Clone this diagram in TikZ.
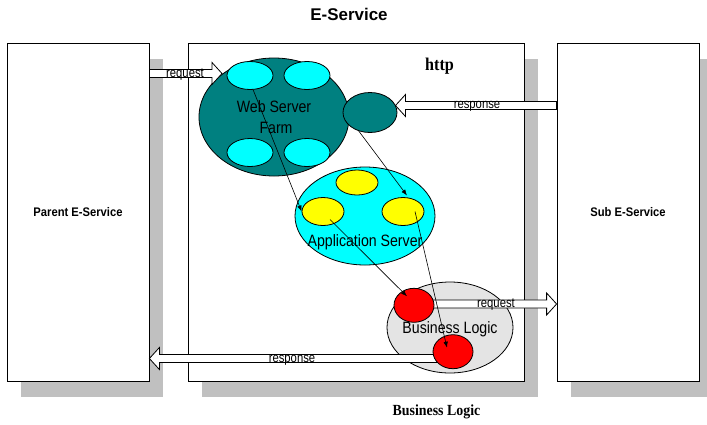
\documentclass[tikz,border=0pt]{standalone}
\usepackage{fontspec}
\usepackage{graphicx}
\setmainfont{Liberation Sans}
\newfontfamily\serifbold{Liberation Serif}
\usetikzlibrary{shapes.geometric,arrows.meta,calc,shadows}
\definecolor{teal0}{RGB}{0,128,128}
\definecolor{cyan0}{RGB}{0,255,255}
\definecolor{yellow0}{RGB}{255,255,0}
\definecolor{red0}{RGB}{255,0,0}
\definecolor{blgray}{RGB}{228,228,228}
\definecolor{shadowgray}{RGB}{192,192,192}
\newcommand\hsq[2]{\scalebox{#1}[1]{#2}}
\newcommand\barR[2]{\draw[barrow] ($(#1)+(0,-4)$) -- ($(#2)+(-10,-4)$) -- ($(#2)+(-10,-11)$) -- (#2) -- ($(#2)+(-10,11)$) -- ($(#2)+(-10,4)$) -- ($(#1)+(0,4)$) -- cycle;}
\newcommand\barL[2]{\draw[barrow] ($(#1)+(0,-4)$) -- ($(#2)+(10,-4)$) -- ($(#2)+(10,-11)$) -- (#2) -- ($(#2)+(10,11)$) -- ($(#2)+(10,4)$) -- ($(#1)+(0,4)$) -- cycle;}
\begin{document}
\begin{tikzpicture}[x=1bp,y=-1bp,
  box/.style={draw, line width=0.8bp, fill=white, inner sep=0,
    drop shadow={shadow xshift=14bp, shadow yshift=-16bp, fill=shadowgray, opacity=1}},
  oval/.style={ellipse, draw, line width=0.8bp, inner sep=0},
  barrow/.style={draw, fill=white, line width=0.8bp, line join=miter},
  flow/.style={-{Latex[length=6bp,width=4.5bp]}, line width=0.6bp},
  lbl/.style={inner sep=0, anchor=base, font=\fontsize{16.5}{20}\selectfont},
  albl/.style={inner sep=0, anchor=base, font=\fontsize{13.5}{16}\selectfont},
  boxlbl/.style={font=\bfseries\fontsize{12.5}{15}\selectfont}
]
\useasboundingbox (0,0) rectangle (707,424);

% boxes
\node[box, boxlbl, minimum width=142bp, minimum height=338bp] (parent) at (78,212) {\hsq{0.9}{Parent E-Service}};
\node[box, minimum width=336bp, minimum height=338bp] (mid) at (356,212) {};
\node[box, boxlbl, minimum width=142bp, minimum height=338bp] (sub) at (628,212) {\hsq{0.9}{Sub E-Service}};

% big ovals
\node[oval, fill=teal0, minimum width=150bp, minimum height=118bp] (wsf) at (274,117) {};
\node[oval, fill=cyan0, minimum width=140bp, minimum height=98bp] (app) at (365,216) {};
\node[oval, fill=blgray, minimum width=126bp, minimum height=91bp] (bl) at (450,327.5) {};

% block arrows
\coordinate (rq1a) at (parent.east |- 0,73.5);
\coordinate (rq1b) at (222,73.5);
\barR{rq1a}{rq1b}
\coordinate (rs1a) at (sub.west |- 0,105.5);
\coordinate (rs1b) at (395.5,105.5);
\barL{rs1a}{rs1b}
\coordinate (rq2a) at (413,304);
\coordinate (rq2b) at (sub.west |- 0,304);
\barR{rq2a}{rq2b}
\coordinate (rs2a) at (453,358.5);
\coordinate (rs2b) at (parent.east |- 0,358.5);
\barL{rs2a}{rs2b}

% small ovals
\node[oval, fill=cyan0, minimum width=46bp, minimum height=28bp] (c1) at (250,75.5) {};
\node[oval, fill=cyan0, minimum width=46bp, minimum height=28bp] (c2) at (307,75.5) {};
\node[oval, fill=cyan0, minimum width=46bp, minimum height=28bp] (c3) at (250,152.5) {};
\node[oval, fill=cyan0, minimum width=46bp, minimum height=28bp] (c4) at (307,152.5) {};
\node[oval, fill=teal0, minimum width=54bp, minimum height=40bp] (st) at (370,112.5) {};
\node[oval, fill=yellow0, minimum width=42bp, minimum height=25bp] (y1) at (357,182.5) {};
\node[oval, fill=yellow0, minimum width=42bp, minimum height=28bp] (yl) at (323,211.5) {};
\node[oval, fill=yellow0, minimum width=42bp, minimum height=28bp] (yr) at (403,211.5) {};
\node[oval, fill=red0, minimum width=40bp, minimum height=34bp] (r1) at (414,305.3) {};
\node[oval, fill=red0, minimum width=40bp, minimum height=34bp] (r2) at (453,351.7) {};

% flow arrows
\draw[flow] ($(c1)+(3,14)$) -- (yl.west);
\draw[flow] ($(st)+(-12,17.5)$) -- ($(yr)+(4,-16)$);
\draw[flow] ($(yl)+(7,8)$) -- ($(r1)+(-7,-9)$);
\draw[flow] ($(yr)+(12,0)$) -- ($(r2)+(-6,-4)$);

% texts
\node[font=\bfseries\fontsize{17}{20}\selectfont, anchor=base, inner sep=0] (title) at (349,20) {E-Service};
\node[font=\serifbold\bfseries\fontsize{18}{20}\selectfont, anchor=base, inner sep=0] (http) at (439.5,70) {\hsq{0.9}{http}};
\node[font=\serifbold\bfseries\fontsize{15.5}{18}\selectfont, anchor=base, inner sep=0] (bltitle) at (436.5,415.7) {\hsq{0.9}{Business Logic}};
\node[lbl] (wsfa) at (274,112.3) {\hsq{.86}{Web Server}};
\node[lbl] (wsfb) at (276,133.3) {\hsq{.86}{Farm}};
\node[lbl] (appl) at (365,246) {\hsq{.86}{Application Server}};
\node[lbl] (bll) at (450,333.3) {\hsq{.86}{Business Logic}};
\node[albl] (rq1l) at (185,77) {\hsq{.84}{request}};
\node[albl] (rs1l) at (477,108.5) {\hsq{.84}{response}};
\node[albl] (rq2l) at (496,307.5) {\hsq{.84}{request}};
\node[albl] (rs2l) at (292,362) {\hsq{.84}{response}};
\end{tikzpicture}
\end{document}
